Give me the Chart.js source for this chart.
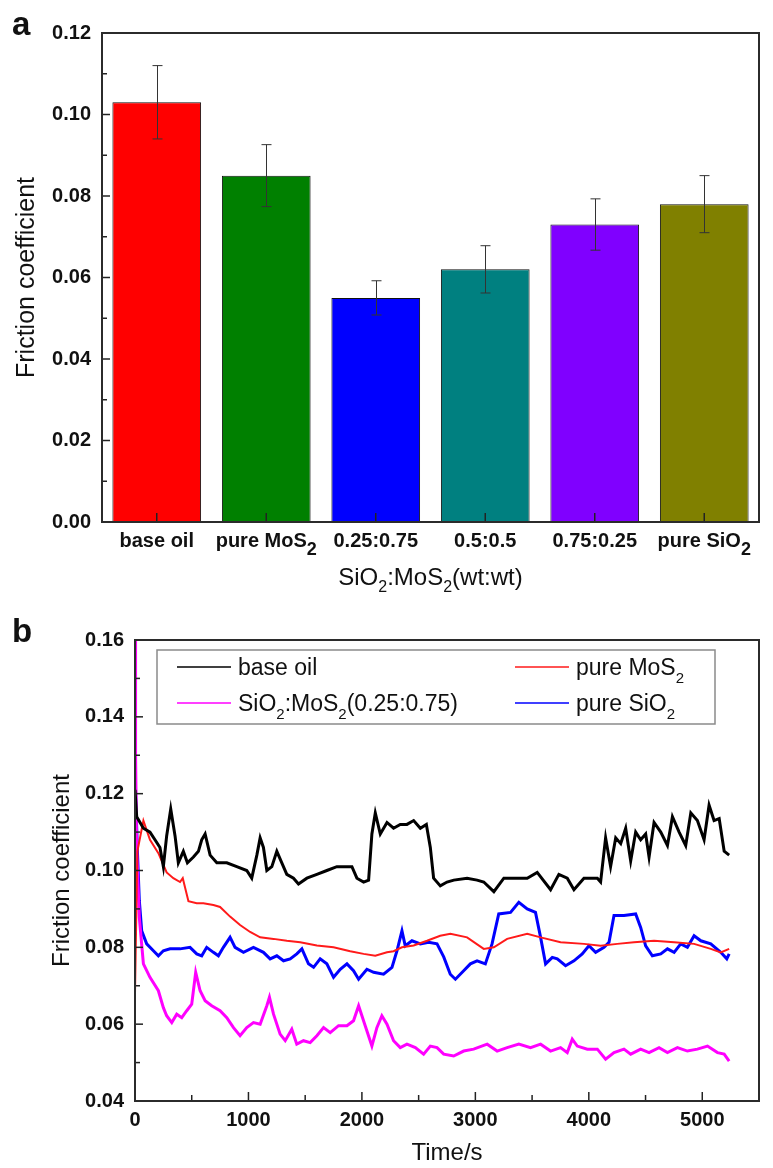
<!DOCTYPE html>
<html>
<head>
<meta charset="utf-8">
<script src="https://cdn.jsdelivr.net/npm/chart.js@4.4.1/dist/chart.umd.min.js"></script>
<style>
    html, body { margin: 0; padding: 0; background: #fff; }
    body { width: 773px; height: 1168px; position: relative; overflow: hidden; font-family: "Liberation Sans", Arial, sans-serif; }
    canvas { position: absolute; left: 0; }
    #chartA { top: 0; }
    #chartB { top: 605px; }
    .tag { position: absolute; left: 12px; font-weight: bold; font-size: 33px; line-height: 33px; color: #111; }
</style>
</head>
<body>
<canvas id="chartA" width="773" height="605"></canvas>
<canvas id="chartB" width="773" height="563"></canvas>
<div class="tag" style="top:7px">a</div>
<div class="tag" style="top:614px">b</div>

<script>
// ---- panel (a): mean friction coefficient per lubricant ----
const categories = ['base oil', 'pure MoS₂', '0.25:0.75', '0.5:0.5', '0.75:0.25', 'pure SiO₂'];
const frictionMean = [0.103, 0.085, 0.055, 0.062, 0.073, 0.078];
const frictionErr = [0.009, 0.0076, 0.0042, 0.0058, 0.0063, 0.007];
const barColors = ['#ff0000', '#008000', '#0000ff', '#008080', '#8000ff', '#808000'];
const yTicksA = [0.00, 0.02, 0.04, 0.06, 0.08, 0.10, 0.12];

// ---- panel (b): friction coefficient vs time ----
const seriesNames = ['base oil', 'pure MoS₂', 'SiO₂:MoS₂(0.25:0.75)', 'pure SiO₂'];
const seriesColors = ['#000000', '#ff1a1a', '#ff00ff', '#0000ff'];
const xTicksB = [0, 1000, 2000, 3000, 4000, 5000];
const xMaxB = 5500;
const yTicksB = [0.04, 0.06, 0.08, 0.10, 0.12, 0.14, 0.16];

const baseOilT = [0, 15, 74, 132, 176, 220, 250, 279, 315, 353,
    382, 426, 462, 515, 559, 588, 618, 662, 721, 809,
    897, 985, 1029, 1074, 1103, 1132, 1162, 1206, 1250, 1294,
    1338, 1397, 1441, 1515, 1603, 1691, 1779, 1868, 1912, 1956,
    2015, 2059, 2088, 2118, 2162, 2221, 2279, 2338, 2397, 2456,
    2515, 2568, 2603, 2632, 2691, 2750, 2810, 2927, 3015, 3074,
    3163, 3251, 3369, 3457, 3545, 3663, 3736, 3810, 3869, 3957,
    4075, 4104, 4148, 4192, 4237, 4281, 4325, 4369, 4413, 4457,
    4501, 4531, 4575, 4634, 4693, 4737, 4796, 4854, 4899, 4957,
    5016, 5060, 5104, 5149, 5193, 5237];
const baseOilF = [0.121, 0.114, 0.111, 0.110, 0.108, 0.106, 0.101, 0.109, 0.116, 0.109,
    0.102, 0.105, 0.102, 0.1035, 0.105, 0.108, 0.1095, 0.104, 0.102, 0.102,
    0.101, 0.100, 0.098, 0.104, 0.1085, 0.106, 0.100, 0.101, 0.105, 0.102,
    0.099, 0.098, 0.0965, 0.098, 0.099, 0.100, 0.101, 0.101, 0.101, 0.098,
    0.097, 0.0975, 0.1095, 0.115, 0.1095, 0.1125, 0.111, 0.112, 0.112, 0.113,
    0.111, 0.112, 0.106, 0.098, 0.096, 0.097, 0.0975, 0.098, 0.0975, 0.097,
    0.0945, 0.098, 0.098, 0.098, 0.0995, 0.095, 0.099, 0.098, 0.095, 0.098,
    0.098, 0.097, 0.1085, 0.101, 0.1085, 0.107, 0.111, 0.1025, 0.110, 0.108,
    0.1095, 0.1035, 0.1125, 0.110, 0.1065, 0.114, 0.110, 0.1065, 0.115, 0.113,
    0.108, 0.117, 0.113, 0.1135, 0.105, 0.104];

const mos2T = [0, 21, 74, 132, 206, 279, 338, 397, 421, 471,
    544, 603, 691, 750, 838, 926, 1015, 1103, 1221, 1338,
    1456, 1603, 1750, 1897, 2015, 2118, 2221, 2279, 2353, 2456,
    2574, 2690, 2780, 2927, 3074, 3163, 3280, 3457, 3575, 3751,
    3957, 4104, 4251, 4398, 4575, 4752, 4928, 5075, 5163, 5237];
const mos2F = [0.068, 0.105, 0.113, 0.108, 0.1045, 0.0995, 0.098, 0.097, 0.098, 0.092,
    0.0915, 0.0915, 0.091, 0.0905, 0.088, 0.0858, 0.084, 0.0826, 0.0822, 0.0817,
    0.0813, 0.0805, 0.080, 0.079, 0.0783, 0.0778, 0.0787, 0.079, 0.080, 0.0805,
    0.0817, 0.083, 0.0835, 0.0826, 0.0796, 0.080, 0.0822, 0.0835, 0.0826, 0.0813,
    0.0809, 0.0804, 0.0809, 0.0813, 0.0817, 0.0813, 0.0809, 0.0796, 0.0787, 0.0796];

const mixT = [0, 5, 15, 38, 74, 132, 206, 250, 279, 324,
    368, 412, 456, 500, 535, 574, 618, 676, 750, 809,
    868, 926, 985, 1044, 1103, 1162, 1185, 1221, 1279, 1324,
    1382, 1426, 1485, 1544, 1603, 1662, 1721, 1794, 1868, 1926,
    1971, 2029, 2088, 2132, 2176, 2221, 2279, 2338, 2397, 2471,
    2544, 2603, 2662, 2721, 2809, 2897, 2985, 3104, 3192, 3280,
    3383, 3486, 3575, 3663, 3751, 3810, 3854, 3898, 3987, 4075,
    4148, 4222, 4310, 4369, 4457, 4531, 4619, 4693, 4781, 4869,
    4957, 5046, 5134, 5193, 5237];
const mixF = [0.16, 0.13, 0.1052, 0.0878, 0.0757, 0.0722, 0.0687, 0.0643, 0.0622, 0.0604,
    0.0626, 0.0617, 0.0635, 0.0652, 0.0735, 0.0687, 0.0661, 0.0648, 0.0635, 0.0617,
    0.0591, 0.057, 0.0591, 0.0604, 0.060, 0.0648, 0.067, 0.0626, 0.0574, 0.0557,
    0.0587, 0.0548, 0.0557, 0.0552, 0.057, 0.0591, 0.0578, 0.0596, 0.0596, 0.0609,
    0.0648, 0.0596, 0.0543, 0.0591, 0.0622, 0.060, 0.0557, 0.0539, 0.0548, 0.0539,
    0.0522, 0.0543, 0.0539, 0.0522, 0.0517, 0.053, 0.0535, 0.0548, 0.053, 0.0539,
    0.0548, 0.0539, 0.0548, 0.053, 0.0539, 0.0526, 0.0561, 0.0543, 0.0535, 0.0535,
    0.0509, 0.0526, 0.0535, 0.0522, 0.0535, 0.0526, 0.0539, 0.0526, 0.0539, 0.053,
    0.0535, 0.0543, 0.0526, 0.0522, 0.0504];

const sio2T = [0, 3, 21, 38, 59, 103, 162, 206, 250, 309,
    397, 485, 544, 588, 632, 691, 735, 779, 838, 882,
    956, 1044, 1132, 1191, 1250, 1309, 1368, 1426, 1471, 1529,
    1574, 1632, 1691, 1750, 1809, 1868, 1926, 1971, 2044, 2103,
    2191, 2265, 2309, 2353, 2382, 2441, 2515, 2588, 2662, 2721,
    2779, 2824, 2897, 2956, 3015, 3088, 3147, 3206, 3310, 3383,
    3457, 3530, 3575, 3619, 3678, 3722, 3795, 3869, 3942, 4001,
    4060, 4134, 4178, 4222, 4310, 4413, 4457, 4501, 4560, 4634,
    4693, 4752, 4810, 4869, 4928, 4987, 5075, 5163, 5216, 5237];
const sio2F = [0.128, 0.1226, 0.1052, 0.0922, 0.0843, 0.0809, 0.0791, 0.0778, 0.0791, 0.0796,
    0.0796, 0.080, 0.0783, 0.0778, 0.080, 0.0787, 0.0778, 0.080, 0.0826, 0.080,
    0.0787, 0.080, 0.0787, 0.077, 0.0778, 0.0765, 0.077, 0.0783, 0.0796, 0.0757,
    0.0748, 0.077, 0.0757, 0.0722, 0.0743, 0.0757, 0.0739, 0.0717, 0.0743, 0.0735,
    0.073, 0.0748, 0.0791, 0.0843, 0.0804, 0.0817, 0.0809, 0.0813, 0.0809, 0.0775,
    0.073, 0.0717, 0.0739, 0.0757, 0.0765, 0.0757, 0.0809, 0.0887, 0.0891, 0.0917,
    0.090, 0.0891, 0.0826, 0.0757, 0.0774, 0.077, 0.0752, 0.0765, 0.0783, 0.0804,
    0.0787, 0.080, 0.0813, 0.0883, 0.0883, 0.0887, 0.0852, 0.0804, 0.0778, 0.0783,
    0.0796, 0.0787, 0.0809, 0.080, 0.083, 0.0817, 0.0809, 0.0787, 0.077, 0.0783];

const FONT = '"Liberation Sans", Arial, sans-serif';
Chart.defaults.font.family = FONT;
Chart.defaults.color = '#111';

// Text with unicode subscript digits drawn as lowered, smaller runs
const SUBS = '₀₁₂₃₄₅₆₇₈₉';
function splitRuns(text) {
    const runs = [];
    for (const ch of text) {
        const k = SUBS.indexOf(ch);
        const sub = k >= 0;
        const c = sub ? String(k) : ch;
        const last = runs[runs.length - 1];
        if (last && last.sub === sub) last.text += c;
        else runs.push({ text: c, sub: sub });
    }
    return runs;
}

function drawRich(ctx, text, x, y, f, align) {
    const runs = splitRuns(text);
    const mk = (size) => `${f.weight || 'normal'} ${size}px ${FONT}`;
    let total = 0;
    runs.forEach(r => {
        ctx.font = mk(r.sub ? f.sub : f.size);
        r.w = ctx.measureText(r.text).width;
        total += r.w;
    });
    let cx = align === 'center' ? x - total / 2 : x;
    ctx.textAlign = 'left';
    ctx.textBaseline = 'alphabetic';
    runs.forEach(r => {
        ctx.font = mk(r.sub ? f.sub : f.size);
        ctx.fillText(r.text, cx, r.sub ? y + f.drop : y);
        cx += r.w;
    });
}

function seg(ctx, x1, y1, x2, y2) {
    ctx.beginPath();
    ctx.moveTo(x1, y1);
    ctx.lineTo(x2, y2);
    ctx.stroke();
}

// Frame, inward ticks, error bars, subscripted labels and legend
const decor = {
    id: 'decor',
    afterDatasetsDraw(chart, args, o) {
        const { ctx, chartArea: area } = chart;
        const xs = chart.scales.x, ys = chart.scales.y;
        ctx.save();

        if (o.errors) {
            ctx.strokeStyle = '#333';
            ctx.lineWidth = 1;
            const vals = chart.data.datasets[0].data;
            o.errors.forEach((e, i) => {
                const px = Math.round(xs.getPixelForValue(i)) + 0.5;
                const top = ys.getPixelForValue(vals[i] + e);
                const bot = ys.getPixelForValue(vals[i] - e);
                seg(ctx, px, top, px, bot);
                seg(ctx, px - 5, top, px + 5, top);
                seg(ctx, px - 5, bot, px + 5, bot);
            });
        }

        ctx.strokeStyle = '#222';
        ctx.lineWidth = 1.5;
        const yv = ys.ticks.map(t => t.value);
        yv.forEach((v, i) => {
            const py = ys.getPixelForValue(v);
            seg(ctx, area.left, py, area.left + 8, py);
            if (i < yv.length - 1) {
                const pm = ys.getPixelForValue((v + yv[i + 1]) / 2);
                seg(ctx, area.left, pm, area.left + 5, pm);
            }
        });

        if (o.categoryTicks) {
            chart.data.labels.forEach((_, i) => {
                const px = xs.getPixelForValue(i);
                seg(ctx, px, area.bottom, px, area.bottom - 9);
            });
        } else {
            const xv = xs.ticks.map(t => t.value);
            xv.forEach((v, i) => {
                const px = xs.getPixelForValue(v);
                seg(ctx, px, area.bottom, px, area.bottom - 9);
                if (i < xv.length - 1) {
                    const pm = xs.getPixelForValue((v + xv[i + 1]) / 2);
                    seg(ctx, pm, area.bottom, pm, area.bottom - 6);
                }
            });
        }

        ctx.strokeStyle = '#2b2b2b';
        ctx.lineWidth = 2;
        ctx.strokeRect(area.left, area.top, area.right - area.left, area.bottom - area.top);

        ctx.fillStyle = '#111';
        if (o.xLabels) {
            chart.data.labels.forEach((lab, i) => {
                drawRich(ctx, lab, xs.getPixelForValue(i), area.bottom + 25,
                    { size: 20, sub: 18, drop: 8, weight: 'bold' }, 'center');
            });
        }
        if (o.xTitle) {
            drawRich(ctx, o.xTitle, (area.left + area.right) / 2, area.bottom + 63,
                { size: 24, sub: 16, drop: 7 }, 'center');
        }

        if (o.legend) {
            const bx = area.left + 22, by = area.top + 10;
            const bw = area.right - 44 - bx, bh = 74;
            ctx.strokeStyle = '#8a8a8a';
            ctx.lineWidth = 1.5;
            ctx.strokeRect(bx, by, bw, bh);
            chart.data.datasets.forEach((ds, i) => {
                const col = i % 2, row = Math.floor(i / 2);
                const lx = bx + (col ? 358 : 20);
                const ly = by + 17 + row * 36;
                ctx.strokeStyle = ds.borderColor;
                ctx.lineWidth = 1.5;
                seg(ctx, lx, ly, lx + 54, ly);
                ctx.fillStyle = '#111';
                drawRich(ctx, ds.label, lx + 61, ly + 8, { size: 23, sub: 15, drop: 8 }, 'left');
            });
        }
        ctx.restore();
    }
};

const tickFont = { size: 20, weight: 'bold' };
const fixTicks = (list) => (s) => { s.ticks = list.map(v => ({ value: v })); };

new Chart(document.getElementById('chartA'), {
    type: 'bar',
    data: {
        labels: categories,
        datasets: [{
            label: 'Friction coefficient',
            data: frictionMean,
            backgroundColor: barColors,
            borderColor: '#111',
            borderWidth: 1,
            barPercentage: 0.81,
            categoryPercentage: 1.0
        }]
    },
    options: {
        responsive: false,
        animation: false,
        events: [],
        layout: { padding: { top: 33, right: 14, left: 0, bottom: 0 } },
        plugins: {
            legend: { display: false },
            tooltip: { enabled: false },
            decor: { errors: frictionErr, categoryTicks: true, xLabels: true, xTitle: 'SiO₂:MoS₂(wt:wt)' }
        },
        scales: {
            x: {
                grid: { display: false, drawTicks: false },
                border: { display: false },
                ticks: { display: false },
                afterFit: (s) => { s.height = 83; }
            },
            y: {
                min: yTicksA[0],
                max: yTicksA[yTicksA.length - 1],
                afterBuildTicks: fixTicks(yTicksA),
                grid: { display: false, drawTicks: false },
                border: { display: false },
                ticks: {
                    padding: 11,
                    font: tickFont,
                    color: '#111',
                    callback: (v) => v.toFixed(2)
                },
                title: {
                    display: true,
                    text: 'Friction coefficient',
                    font: { size: 25 },
                    color: '#111',
                    padding: { top: 12, bottom: 0 }
                },
                afterFit: (s) => { s.width = 102; }
            }
        }
    },
    plugins: [decor]
});

const seriesT = [baseOilT, mos2T, mixT, sio2T];
const seriesF = [baseOilF, mos2F, mixF, sio2F];
const lineWidths = [3, 2, 3, 3];

new Chart(document.getElementById('chartB'), {
    type: 'line',
    data: {
        datasets: seriesNames.map((name, k) => ({
            label: name,
            data: seriesT[k].map((t, i) => ({ x: t, y: seriesF[k][i] })),
            borderColor: seriesColors[k],
            borderWidth: lineWidths[k],
            pointRadius: 0,
            tension: 0,
            fill: false
        }))
    },
    options: {
        responsive: false,
        animation: false,
        events: [],
        layout: { padding: { top: 35, right: 14, left: 0, bottom: 0 } },
        plugins: {
            legend: { display: false },
            tooltip: { enabled: false },
            decor: { legend: true }
        },
        scales: {
            x: {
                type: 'linear',
                min: xTicksB[0],
                max: xMaxB,
                afterBuildTicks: fixTicks(xTicksB),
                grid: { display: false, drawTicks: false },
                border: { display: false },
                ticks: {
                    padding: 7,
                    font: tickFont,
                    color: '#111',
                    maxRotation: 0,
                    autoSkip: false,
                    callback: (v) => String(v)
                },
                title: {
                    display: true,
                    text: 'Time/s',
                    font: { size: 24 },
                    color: '#111',
                    padding: { top: 0, bottom: 0 }
                },
                afterFit: (s) => { s.height = 67; }
            },
            y: {
                min: yTicksB[0],
                max: yTicksB[yTicksB.length - 1],
                afterBuildTicks: fixTicks(yTicksB),
                grid: { display: false, drawTicks: false },
                border: { display: false },
                ticks: {
                    padding: 11,
                    font: tickFont,
                    color: '#111',
                    callback: (v) => v.toFixed(2)
                },
                title: {
                    display: true,
                    text: 'Friction coefficient',
                    font: { size: 24 },
                    color: '#111',
                    padding: { top: 48, bottom: 0 }
                },
                afterFit: (s) => { s.width = 135; }
            }
        }
    },
    plugins: [decor]
});
</script>
</body>
</html>
